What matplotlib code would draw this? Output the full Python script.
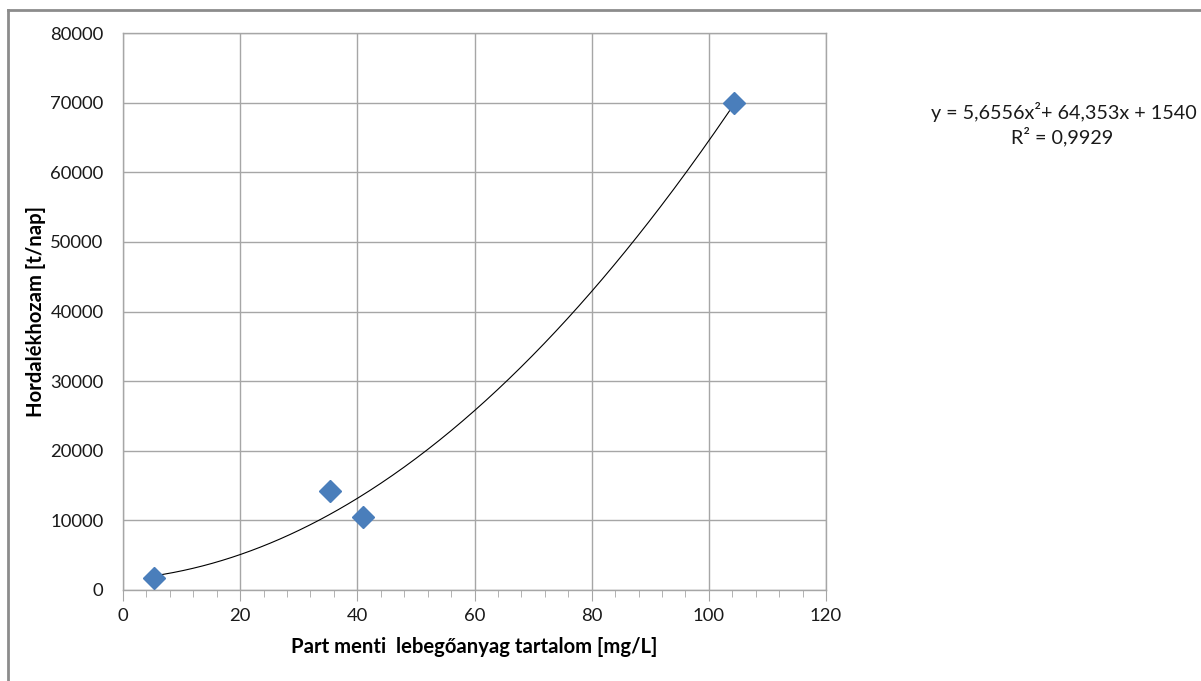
import numpy as np
import matplotlib
matplotlib.use("Agg")
import matplotlib.pyplot as plt
from matplotlib.lines import Line2D
from matplotlib.ticker import MultipleLocator

plt.rcParams['font.family'] = ['Lato', 'DejaVu Sans']

# Data
x_vals = [5.3, 35.3, 41.0, 104.3]
y_vals = [1700, 14150, 10450, 69950]
trend_coef = [5.6556, 64.353, 1540]   # quadratic trendline (Excel)
eq_text = "y = 5,6556x\u00b2+ 64,353x + 1540"
r2_text = "R\u00b2 = 0,9929"
x_label = "Part menti  lebegőanyag tartalom [mg/L]"
y_label = "Hordalékhozam [t/nap]"

W, H = 1201, 681
fig = plt.figure(figsize=(W/100, H/100), dpi=100)
ax = fig.add_axes([123/W, 1-590/H, (826-123)/W, (590-33)/H])

grid_c = '#a6a6a6'
ax.set_xlim(0, 120)
ax.set_ylim(0, 80000)
ax.xaxis.set_major_locator(MultipleLocator(20))
ax.xaxis.set_minor_locator(MultipleLocator(4))
ax.yaxis.set_major_locator(MultipleLocator(10000))
ax.grid(True, which='major', color=grid_c, linewidth=1.0)
ax.set_axisbelow(True)
for s in ax.spines.values():
    s.set_color(grid_c)
    s.set_linewidth(1.0)
ax.tick_params(axis='x', which='both', direction='out', color=grid_c, labelsize=13.3,
               labelcolor='#1a1a1a', pad=5)
ax.tick_params(axis='x', which='major', length=8)
ax.tick_params(axis='x', which='minor', length=5)
ax.tick_params(axis='y', which='both', length=0, labelsize=13.3, labelcolor='#1a1a1a', pad=14)

xt = np.linspace(min(x_vals), max(x_vals), 300)
ax.plot(xt, np.polyval(trend_coef, xt), color='black', linewidth=0.8, zorder=3)
ax.plot(x_vals, y_vals, linestyle='none', marker='D', markersize=11,
        color='#4a7ebb', markeredgecolor='#4a7ebb', zorder=4)

ax.set_xlabel(x_label, fontsize=14.6, fontweight='bold', labelpad=9)
ax.set_ylabel(y_label, fontsize=14.6, fontweight='bold', labelpad=3)

fig.text(1064/W, 1-112/H, eq_text, ha='center', va='center', fontsize=14.2, color='#1a1a1a')
fig.text(1062/W, 1-137/H, r2_text, ha='center', va='center', fontsize=14.2, color='#1a1a1a')

# outer chart frame (partially visible)
frame_c = '#8c8c8c'
fig.add_artist(Line2D([7.5/W, 7.5/W], [0, 1-10/H], transform=fig.transFigure,
                      color=frame_c, linewidth=2))
fig.add_artist(Line2D([7.5/W, 1], [1-10/H, 1-10/H], transform=fig.transFigure,
                      color=frame_c, linewidth=2))

fig.savefig("out.png", dpi=100)
